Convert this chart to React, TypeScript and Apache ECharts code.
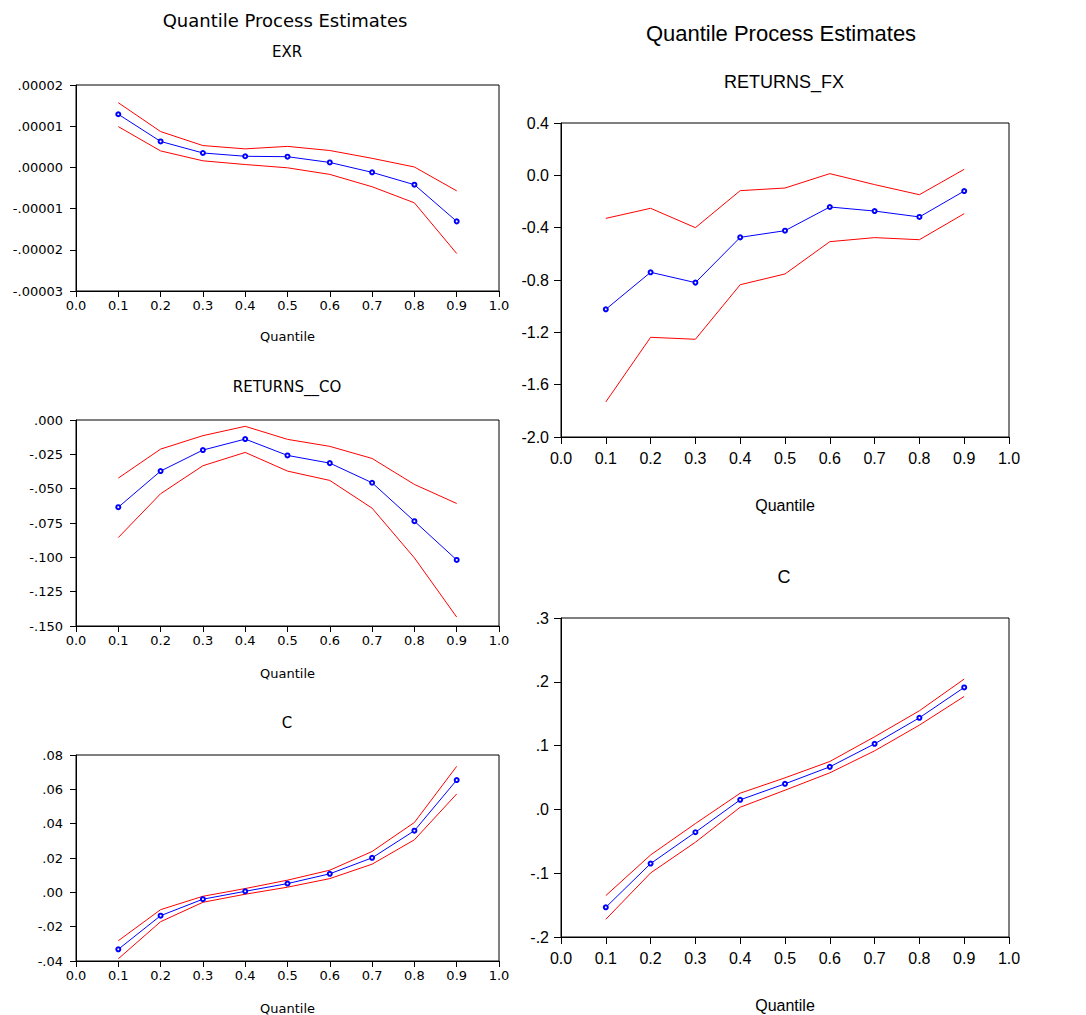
import React, { useEffect, useRef } from "react";
import * as echarts from "echarts";

// ---- data ----
const quantiles = [0.1, 0.2, 0.3, 0.4, 0.5, 0.6, 0.7, 0.8, 0.9];
const xTicks = ["0.0", "0.1", "0.2", "0.3", "0.4", "0.5", "0.6", "0.7", "0.8", "0.9", "1.0"];

const exrEst = [1.29e-5, 0.63e-5, 0.35e-5, 0.27e-5, 0.26e-5, 0.12e-5, -0.12e-5, -0.42e-5, -1.31e-5];
const exrUpper = [1.57e-5, 0.87e-5, 0.53e-5, 0.45e-5, 0.51e-5, 0.41e-5, 0.22e-5, 0.01e-5, -0.57e-5];
const exrLower = [0.99e-5, 0.4e-5, 0.16e-5, 0.07e-5, -0.01e-5, -0.17e-5, -0.47e-5, -0.86e-5, -2.09e-5];

const coEst = [-0.0635, -0.0372, -0.0219, -0.0139, -0.0258, -0.0314, -0.0457, -0.0737, -0.1019];
const coUpper = [-0.0423, -0.0212, -0.0114, -0.0046, -0.0141, -0.0192, -0.028, -0.0469, -0.0608];
const coLower = [-0.0856, -0.0537, -0.0333, -0.0236, -0.0372, -0.044, -0.0642, -0.1004, -0.1435];

const cLeftEst = [-0.0332, -0.0136, -0.004, 0.0006, 0.0051, 0.0108, 0.0201, 0.0359, 0.0654];
const cLeftUpper = [-0.0282, -0.0101, -0.0023, 0.0022, 0.0071, 0.0129, 0.0238, 0.0407, 0.0734];
const cLeftLower = [-0.0387, -0.0171, -0.0058, -0.0011, 0.003, 0.008, 0.0164, 0.0306, 0.0573];

const fxEst = [-1.024, -0.741, -0.82, -0.474, -0.423, -0.242, -0.273, -0.318, -0.12];
const fxUpper = [-0.329, -0.252, -0.4, -0.117, -0.097, 0.013, -0.071, -0.148, 0.046];
const fxLower = [-1.732, -1.238, -1.253, -0.836, -0.754, -0.507, -0.476, -0.492, -0.293];

const cRightEst = [-0.1535, -0.0849, -0.0358, 0.015, 0.0401, 0.0667, 0.1028, 0.1436, 0.1912];
const cRightUpper = [-0.1351, -0.0714, -0.0222, 0.0254, 0.0495, 0.0751, 0.1138, 0.1546, 0.2043];
const cRightLower = [-0.1723, -0.0996, -0.0515, 0.0034, 0.0301, 0.0573, 0.0918, 0.1321, 0.1771];

const mainTitle = "Quantile Process Estimates";
const xName = "Quantile";

const stripZero = (s: string) => s.replace(/^(-?)0\./, "$1.");

const LEFT_FONT = "DejaVu Sans";
const RIGHT_FONT = "Liberation Sans";

type Panel = {
  title: string;
  est: number[];
  lo: number[];
  hi: number[];
  min: number;
  max: number;
  interval: number;
  fmt: (v: number) => string;
  grid: { left: number; top: number; width: number; height: number };
  side: "left" | "right";
  titleY: number;
  nameY: number;
};

const panels: Panel[] = [
  {
    title: "EXR", est: exrEst, lo: exrLower, hi: exrUpper,
    min: -0.00003, max: 0.00002, interval: 0.00001,
    fmt: (v) => stripZero(v.toFixed(5)),
    grid: { left: 76, top: 85, width: 423, height: 206 }, side: "left", titleY: 52, nameY: 336,
  },
  {
    title: "RETURNS__CO", est: coEst, lo: coLower, hi: coUpper,
    min: -0.15, max: 0, interval: 0.025,
    fmt: (v) => stripZero(v.toFixed(3)),
    grid: { left: 76, top: 420, width: 423, height: 206 }, side: "left", titleY: 387, nameY: 673,
  },
  {
    title: "C", est: cLeftEst, lo: cLeftLower, hi: cLeftUpper,
    min: -0.04, max: 0.08, interval: 0.02,
    fmt: (v) => stripZero(v.toFixed(2)),
    grid: { left: 76, top: 755, width: 423, height: 206 }, side: "left", titleY: 723, nameY: 1008,
  },
  {
    title: "RETURNS_FX", est: fxEst, lo: fxLower, hi: fxUpper,
    min: -2.0, max: 0.4, interval: 0.4,
    fmt: (v) => v.toFixed(1),
    grid: { left: 561, top: 123, width: 448, height: 314 }, side: "right", titleY: 82, nameY: 505,
  },
  {
    title: "C", est: cRightEst, lo: cRightLower, hi: cRightUpper,
    min: -0.2, max: 0.3, interval: 0.1,
    fmt: (v) => stripZero(v.toFixed(1)),
    grid: { left: 561, top: 618, width: 448, height: 319 }, side: "right", titleY: 577, nameY: 1005,
  },
];

function buildOption() {
  const grids: any[] = [];
  const xAxes: any[] = [];
  const yAxes: any[] = [];
  const series: any[] = [];
  const graphics: any[] = [];

  panels.forEach((p, i) => {
    const isLeft = p.side === "left";
    const font = isLeft ? LEFT_FONT : RIGHT_FONT;
    const tickFont = isLeft ? 13 : 16;
    grids.push({
      ...p.grid,
      show: true,
      borderColor: "#000",
      borderWidth: 1,
      backgroundColor: "transparent",
      containLabel: false,
    });
    const axisCommon = {
      axisLine: { show: true, onZero: false, lineStyle: { color: "#000", width: 1 } },
      axisTick: { show: true, inside: false, length: isLeft ? 6 : 7, lineStyle: { color: "#000" } },
      splitLine: { show: false },
    };
    xAxes.push({
      type: "value",
      gridIndex: i,
      min: 0,
      max: 1,
      interval: 0.1,
      ...axisCommon,
      axisLabel: {
        color: "#000",
        fontFamily: font,
        fontSize: tickFont,
        margin: isLeft ? 8 : 13,
        formatter: (v: number) => xTicks[Math.round(v * 10)] ?? v.toFixed(1),
      },
    });
    yAxes.push({
      type: "value",
      gridIndex: i,
      min: p.min,
      max: p.max,
      interval: p.interval,
      ...axisCommon,
      axisLabel: {
        color: "#000",
        fontFamily: font,
        fontSize: tickFont,
        margin: isLeft ? 13 : 12,
        formatter: p.fmt,
      },
    });
    const toPairs = (arr: number[]) => arr.map((v, k) => [quantiles[k], v]);
    series.push({
      type: "line",
      xAxisIndex: i,
      yAxisIndex: i,
      data: toPairs(p.hi),
      showSymbol: false,
      symbol: "none",
      lineStyle: { color: "#ff0000", width: 1 },
      z: 2,
    });
    series.push({
      type: "line",
      xAxisIndex: i,
      yAxisIndex: i,
      data: toPairs(p.lo),
      showSymbol: false,
      symbol: "none",
      lineStyle: { color: "#ff0000", width: 1 },
      z: 2,
    });
    series.push({
      type: "line",
      xAxisIndex: i,
      yAxisIndex: i,
      data: toPairs(p.est),
      symbol: "emptyCircle",
      symbolSize: 4,
      showSymbol: true,
      lineStyle: { color: "#0000ff", width: 1 },
      itemStyle: { color: "#0000ff", borderColor: "#0000ff", borderWidth: 1 },
      z: 3,
    });

    const cx = p.grid.left + p.grid.width / 2;
    graphics.push({
      type: "text",
      x: isLeft ? 287 : 784,
      y: p.titleY,
      style: {
        text: p.title,
        fontFamily: font,
        fontSize: isLeft ? 15 : 18,
        fill: "#000",
        textAlign: "center",
        textVerticalAlign: "middle",
      },
    });
    graphics.push({
      type: "text",
      x: cx,
      y: p.nameY,
      style: {
        text: xName,
        fontFamily: font,
        fontSize: isLeft ? 13 : 16,
        fill: "#000",
        textAlign: "center",
        textVerticalAlign: "middle",
      },
    });
  });

  graphics.push({
    type: "text",
    x: 285,
    y: 20,
    style: {
      text: mainTitle,
      fontFamily: LEFT_FONT,
      fontSize: 18,
      fill: "#000",
      textAlign: "center",
      textVerticalAlign: "middle",
    },
  });
  graphics.push({
    type: "text",
    x: 781,
    y: 33,
    style: {
      text: mainTitle,
      fontFamily: RIGHT_FONT,
      fontSize: 22,
      fill: "#000",
      textAlign: "center",
      textVerticalAlign: "middle",
    },
  });

  return {
    animation: false,
    backgroundColor: "#ffffff",
    grid: grids,
    xAxis: xAxes,
    yAxis: yAxes,
    series,
    graphic: graphics,
  };
}

export default function App() {
  const ref = useRef<HTMLDivElement>(null);
  useEffect(() => {
    if (!ref.current) return;
    const chart = echarts.init(ref.current, undefined, { renderer: "svg" });
    chart.setOption(buildOption() as any);
    return () => {
      chart.dispose();
    };
  }, []);
  return (
    <div
      ref={ref}
      style={{ position: "absolute", left: 0, top: 0, width: 1086, height: 1015 }}
    />
  );
}
